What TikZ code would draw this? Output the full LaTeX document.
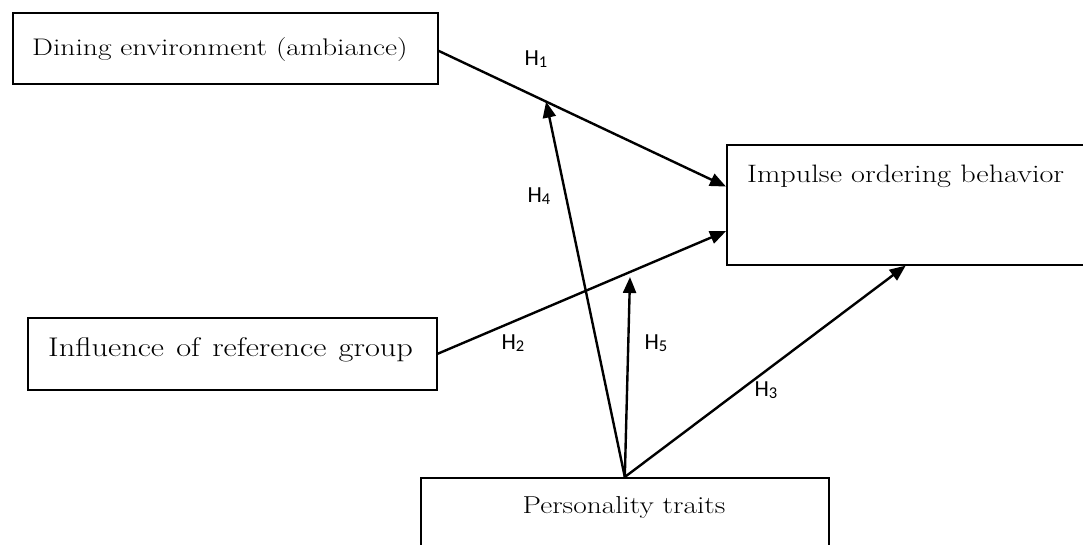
\documentclass[tikz,border=0pt]{standalone}
\usepackage{fontspec}
\newfontfamily\hfont{Carlito}
\usetikzlibrary{arrows.meta,calc}
\newcommand{\stx}[2][1.2]{\scalebox{#1}[1]{#2}}
\newcommand{\hlab}[1]{\hfont\fontsize{23}{25}\selectfont H\raisebox{-2.4pt}{\fontsize{16.5}{17}\selectfont #1}}
\begin{document}
\begin{tikzpicture}[x=1pt,y=-1pt,
  box/.style={draw, line width=1.6pt, inner sep=0pt, anchor=north west},
  txt/.style={inner sep=0pt, text=black, font=\fontsize{24}{28}\selectfont},
  hl/.style={inner sep=0pt, text=black},
  arr/.style={line width=2.4pt, -{Triangle[length=16pt,width=13pt]}}]
\useasboundingbox (0,0) rectangle (1083,545);
% boxes
\node[box, minimum width=425pt, minimum height=71pt] (dine) at (12,12) {};
\node[box, minimum width=409pt, minimum height=72pt] (infl) at (27,317) {};
\node[box, minimum width=400pt, minimum height=120pt] (imp) at (726,144) {};
\node[box, minimum width=408pt, minimum height=120pt] (pers) at (420,477) {};
% texts
\node[txt, anchor=west] (dinet) at (32,50) {\stx[1.23]{Dining environment (ambiance)}};
\node[txt, anchor=west, font=\fontsize{27}{31}\selectfont] (inflt) at (48,350) {\stx{\makebox[304pt][s]{Influence of reference group}}};
\node[txt, anchor=west, font=\fontsize{25.2}{30}\selectfont] (impt) at (747,176) {\stx{Impulse ordering behavior}};
\node[txt, anchor=center, font=\fontsize{24.5}{28}\selectfont] (perst) at (624,507) {\stx{Personality traits}};
% connectors
\coordinate (dineout) at ($(dine.north east)!0.535!(dine.south east)$);
\coordinate (imp1) at ($(imp.north west)!0.35!(imp.south west)$);
\coordinate (imp2) at ($(imp.north west)!0.717!(imp.south west)$);
\coordinate (imp3) at ($(imp.south west)!0.4475!(imp.south east)$);
\coordinate (h5tip) at (630,277);
\draw[arr] (dineout) -- coordinate[pos=0.374] (h1mid) (imp1);
\draw[arr] (infl.east) -- (imp2);
\draw[arr] (pers.north) -- (imp3);
\draw[arr] (pers.north) -- (h1mid);
\draw[arr] (pers.north) -- (h5tip);
% labels
\node[hl] (l1) at (536,59) {\hlab{1}};
\node[hl] (l2) at (513,343) {\hlab{2}};
\node[hl] (l3) at (766,390) {\hlab{3}};
\node[hl] (l4) at (539,196) {\hlab{4}};
\node[hl] (l5) at (656,343) {\hlab{5}};
\end{tikzpicture}
\end{document}
